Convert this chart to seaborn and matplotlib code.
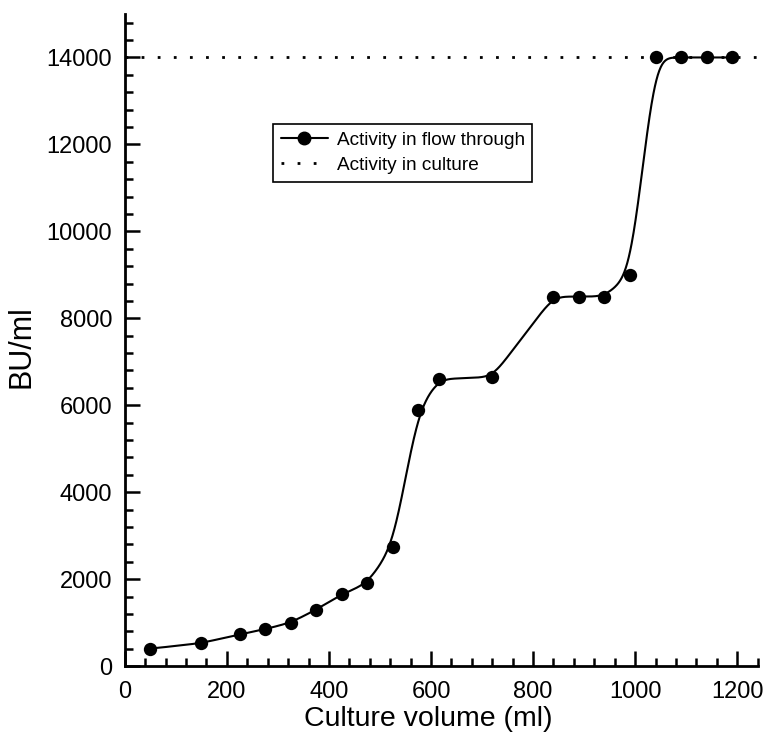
import numpy as np
import pandas as pd
import matplotlib
matplotlib.use("Agg")
import matplotlib.pyplot as plt
import seaborn as sns
from matplotlib.lines import Line2D
from matplotlib.ticker import MultipleLocator

# values
volume_ml = [50, 150, 225, 275, 325, 375, 425, 475, 525, 575,
             615, 720, 840, 890, 940, 990, 1040, 1090, 1140, 1190]
activity_flow = [400, 530, 730, 850, 1000, 1300, 1650, 1900, 2750, 5900,
                 6600, 6650, 8500, 8500, 8500, 9000, 14000, 14000, 14000, 14000]
activity_culture = 14000

df = pd.DataFrame({"volume": volume_ml, "activity": activity_flow})

# smooth trend line through the measurements (gaussian smoothed interpolant)
xs = np.linspace(df["volume"].min(), df["volume"].max(), 1200)
lin = np.interp(xs, df["volume"], df["activity"])
dx = xs[1] - xs[0]
sig = 15.0
kx = np.arange(-4 * sig, 4 * sig + dx, dx)
kern = np.exp(-0.5 * (kx / sig) ** 2)
kern /= kern.sum()
pad = len(kx) // 2
smooth = np.convolve(np.pad(lin, pad, mode="edge"), kern, mode="valid")[:len(xs)]
curve = pd.DataFrame({"volume": xs, "activity": smooth})

sns.set_style("ticks")
plt.rcParams["font.family"] = ["Liberation Sans", "DejaVu Sans"]
plt.rcParams["text.color"] = "black"
plt.rcParams["axes.labelcolor"] = "black"

fig = plt.figure(figsize=(7.66, 7.36), dpi=100)
ax = fig.add_axes([0.163, 0.095, 0.826, 0.886])

dots = (0, (1, 4.8))
ax.axhline(activity_culture, color="black", lw=2.0, ls=dots, zorder=1)
sns.lineplot(data=curve, x="volume", y="activity", color="black", lw=1.5, ax=ax, zorder=2)
sns.scatterplot(data=df, x="volume", y="activity", color="black", s=92,
                edgecolor="black", linewidth=0, ax=ax, zorder=3)

ax.set_xlim(0, 1240)
ax.set_ylim(0, 15000)
ax.xaxis.set_major_locator(MultipleLocator(200))
ax.xaxis.set_minor_locator(MultipleLocator(40))
ax.yaxis.set_major_locator(MultipleLocator(2000))
ax.yaxis.set_minor_locator(MultipleLocator(400))
ax.tick_params(which="both", direction="in", width=1.8, colors="black",
               labelsize=17)
ax.tick_params(axis="y", pad=9)
ax.tick_params(axis="x", pad=11)
ax.tick_params(which="major", length=11)
ax.tick_params(which="minor", length=6)
sns.despine(ax=ax)
for s in ["left", "bottom"]:
    ax.spines[s].set_linewidth(2.0)
    ax.spines[s].set_color("black")

ax.set_xlabel("Culture volume (ml)", fontsize=20.5, color="black")
ax.xaxis.set_label_coords(0.48, -0.061)
ax.set_ylabel("BU/ml", fontsize=22, color="black")
ax.yaxis.set_label_coords(-0.14, 0.49)

handles = [
    Line2D([], [], color="black", lw=1.5, marker="o", markersize=9),
    Line2D([], [], color="black", lw=2.0, ls=dots),
]
leg = ax.legend(handles, ["Activity in flow through", "Activity in culture"],
                loc="upper left", bbox_to_anchor=(0.234, 0.831), fontsize=13.7,
                frameon=True, fancybox=False, framealpha=1, edgecolor="black",
                handlelength=2.5, handletextpad=0.45, borderpad=0.4,
                labelspacing=0.4, borderaxespad=0, labelcolor="black")
leg.get_frame().set_linewidth(1.2)

fig.savefig("out.png", dpi=100)
